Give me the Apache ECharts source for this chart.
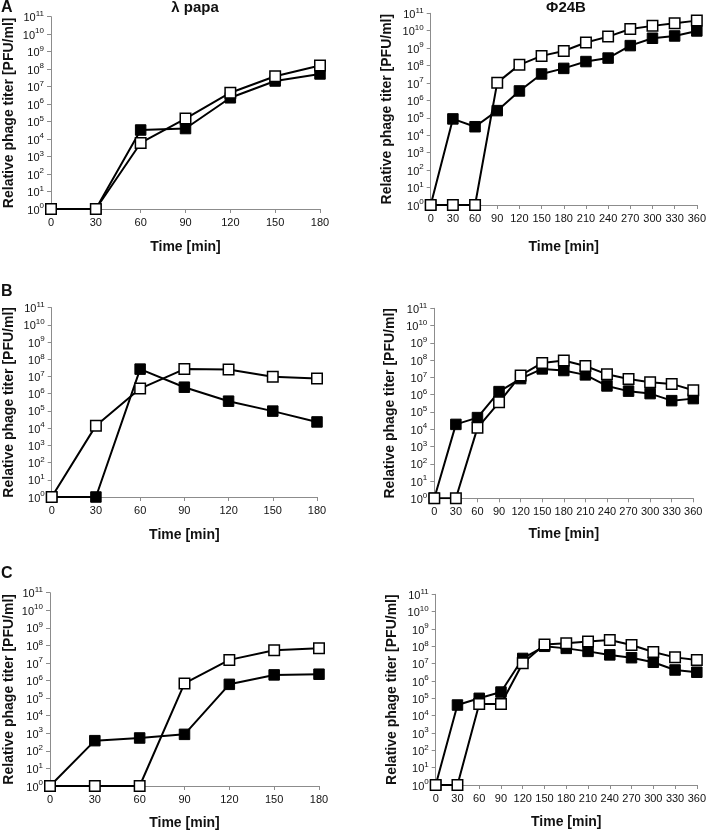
<!DOCTYPE html>
<html>
<head>
<meta charset="utf-8">
<script src="https://cdn.jsdelivr.net/npm/echarts@6/dist/echarts.min.js"></script>
<style>
html,body{margin:0;padding:0;background:#fff;}
#c{width:709px;height:831px;}
</style>
</head>
<body>
<div id="c"></div>
<script>
// ---- data ----
const timeShort = [0, 30, 60, 90, 120, 150, 180];
const timeLong = [0, 30, 60, 90, 120, 150, 180, 210, 240, 270, 300, 330, 360];
const yTickExponents = [0, 1, 2, 3, 4, 5, 6, 7, 8, 9, 10, 11];

// Panel A
const aLambdaFilled = [1, 1, 3.3e4, 4e4, 2.3e6, 2.1e7, 5.3e7];
const aLambdaOpen   = [1, 1, 6e3, 1.5e5, 4.5e6, 3.9e7, 1.6e8];
const aPhiFilled = [1, 8.7e4, 3.1e4, 2.6e5, 3.5e6, 3.3e7, 6.9e7, 1.7e8, 2.7e8, 1.4e9, 3.7e9, 5e9, 9.7e9];
const aPhiOpen   = [1, 1, 1, 1.05e7, 1.1e8, 3.6e8, 6.9e8, 2.1e9, 4.6e9, 1.26e10, 1.9e10, 2.7e10, 3.8e10];
// Panel B
const bLambdaFilled = [1, 1, 2.7e7, 2.4e6, 3.7e5, 9.8e4, 2.3e4];
const bLambdaOpen   = [1, 1.4e4, 2e6, 2.7e7, 2.6e7, 9.6e6, 7.7e6];
const bPhiFilled = [1, 1.9e4, 4.7e4, 1.5e6, 8.5e6, 3.1e7, 2.5e7, 1.4e7, 3.2e6, 1.6e6, 1.15e6, 4.5e5, 5.9e5];
const bPhiOpen   = [1, 1, 1.2e4, 3.6e5, 1.3e7, 6.9e7, 9.4e7, 4.6e7, 1.5e7, 8.1e6, 5.2e6, 4.2e6, 1.8e6];
// Panel C
const cLambdaFilled = [1, 3.8e2, 5.4e2, 8.7e2, 6.1e5, 2.1e6, 2.3e6];
const cLambdaOpen   = [1, 1, 1, 6.9e5, 1.5e7, 5.3e7, 6.9e7];
const cPhiFilled = [1, 4.1e4, 1e5, 2.3e5, 2e7, 1e8, 7.6e7, 5.1e7, 3.2e7, 2.2e7, 1.2e7, 4.3e6, 3.2e6];
const cPhiOpen   = [1, 1, 4.7e4, 4.7e4, 1.05e7, 1.26e8, 1.5e8, 1.9e8, 2.3e8, 1.2e8, 4.7e7, 2.3e7, 1.6e7];

const panelLetters = ['A', 'B', 'C'];
const columnTitles = ['λ papa', 'Φ24B'];
const xAxisTitle = 'Time [min]';
const yAxisTitle = 'Relative phage titer [PFU/ml]';

// ---- layout ----
const FONT = '"Liberation Sans", Arial, sans-serif';
const panels = [
  {grid:{left:51,  top:16.7,  width:269,   height:192.3}, t:timeShort, f:aLambdaFilled, o:aLambdaOpen, xmax:180, nameGapY:35, nameGapX:31},
  {grid:{left:430.7,top:13.3, width:268.3, height:191.7}, t:timeLong,  f:aPhiFilled,    o:aPhiOpen,    xmax:360, nameGapY:37, nameGapX:35},
  {grid:{left:51.7,top:307.7, width:265.3, height:189.3}, t:timeShort, f:bLambdaFilled, o:bLambdaOpen, xmax:180, nameGapY:36, nameGapX:31},
  {grid:{left:434.3,top:308.3,width:259,   height:190},   t:timeLong,  f:bPhiFilled,    o:bPhiOpen,    xmax:360, nameGapY:37, nameGapX:29},
  {grid:{left:50,  top:592.7, width:269,   height:193.3}, t:timeShort, f:cLambdaFilled, o:cLambdaOpen, xmax:180, nameGapY:34, nameGapX:30},
  {grid:{left:435.7,top:594.3,width:262,   height:190.7}, t:timeLong,  f:cPhiFilled,    o:cPhiOpen,    xmax:360, nameGapY:37, nameGapX:30}
];

const axisLineStyle = {color:'#8c8c8c', width:1};
const grids = [], xAxes = [], yAxes = [], series = [];

panels.forEach((p, i) => {
  grids.push(Object.assign({containLabel:false}, p.grid));
  xAxes.push({
    type:'value', gridIndex:i, min:0, max:p.xmax, interval:30,
    name:xAxisTitle, nameLocation:'middle', nameGap:p.nameGapX,
    nameTextStyle:{fontFamily:FONT, fontWeight:'bold', fontSize:14, color:'#111'},
    axisLine:{show:true, lineStyle:axisLineStyle},
    axisTick:{show:true, length:4, lineStyle:axisLineStyle},
    axisLabel:{fontFamily:FONT, fontSize:11, color:'#111', margin:8},
    splitLine:{show:false}
  });
  yAxes.push({
    type:'log', logBase:10, gridIndex:i, min:1, max:1e11, interval:1, splitNumber:11,
    name:yAxisTitle, nameLocation:'middle', nameRotate:90, nameGap:p.nameGapY,
    nameTextStyle:{fontFamily:FONT, fontWeight:'bold', fontSize:14, color:'#111'},
    axisLine:{show:true, onZero:false, lineStyle:axisLineStyle},
    axisTick:{show:true, length:4, lineStyle:axisLineStyle},
    axisLabel:{
      margin:7, showMinLabel:true, showMaxLabel:true,
      formatter: v => {
        const e = Math.round(Math.log10(v));
        return yTickExponents.indexOf(e) >= 0 ? '{b|10}{s|' + e + '}' : '';
      },
      rich:{
        b:{fontFamily:FONT, fontSize:11, color:'#111', verticalAlign:'bottom', lineHeight:14},
        s:{fontFamily:FONT, fontSize:8, color:'#111', verticalAlign:'top', lineHeight:14}
      }
    },
    splitLine:{show:false}
  });
  const mk = (vals) => p.t.map((t, k) => [t, vals[k]]);
  series.push({
    type:'line', xAxisIndex:i, yAxisIndex:i, data:mk(p.f),
    symbol:'rect', symbolSize:10.5, showSymbol:true,
    lineStyle:{color:'#000', width:2},
    itemStyle:{color:'#000', borderColor:'#000', borderWidth:1},
    animation:false, silent:true, z:2
  });
  series.push({
    type:'line', xAxisIndex:i, yAxisIndex:i, data:mk(p.o),
    symbol:'rect', symbolSize:10.5, showSymbol:true,
    lineStyle:{color:'#000', width:2},
    itemStyle:{color:'#fff', borderColor:'#000', borderWidth:1.5},
    animation:false, silent:true, z:3
  });
});

const titles = [
  {text:columnTitles[0], left:195, top:0, textAlign:'center'},
  {text:columnTitles[1], left:566, top:0, textAlign:'center'},
  {text:panelLetters[0], left:1, top:0},
  {text:panelLetters[1], left:1, top:284},
  {text:panelLetters[2], left:1, top:566}
].map(t => ({
  text:t.text, left:t.left, top:t.top, textAlign:t.textAlign,
  padding:0,
  textStyle:{fontFamily:FONT, fontWeight:'bold', fontSize:t.text.length === 1 ? 16 : 15, color:'#111'}
}));

const chart = echarts.init(document.getElementById('c'), null, {renderer:'canvas'});
chart.setOption({
  backgroundColor:'#fff',
  animation:false,
  title:titles,
  grid:grids, xAxis:xAxes, yAxis:yAxes, series:series
});
</script>
</body>
</html>
